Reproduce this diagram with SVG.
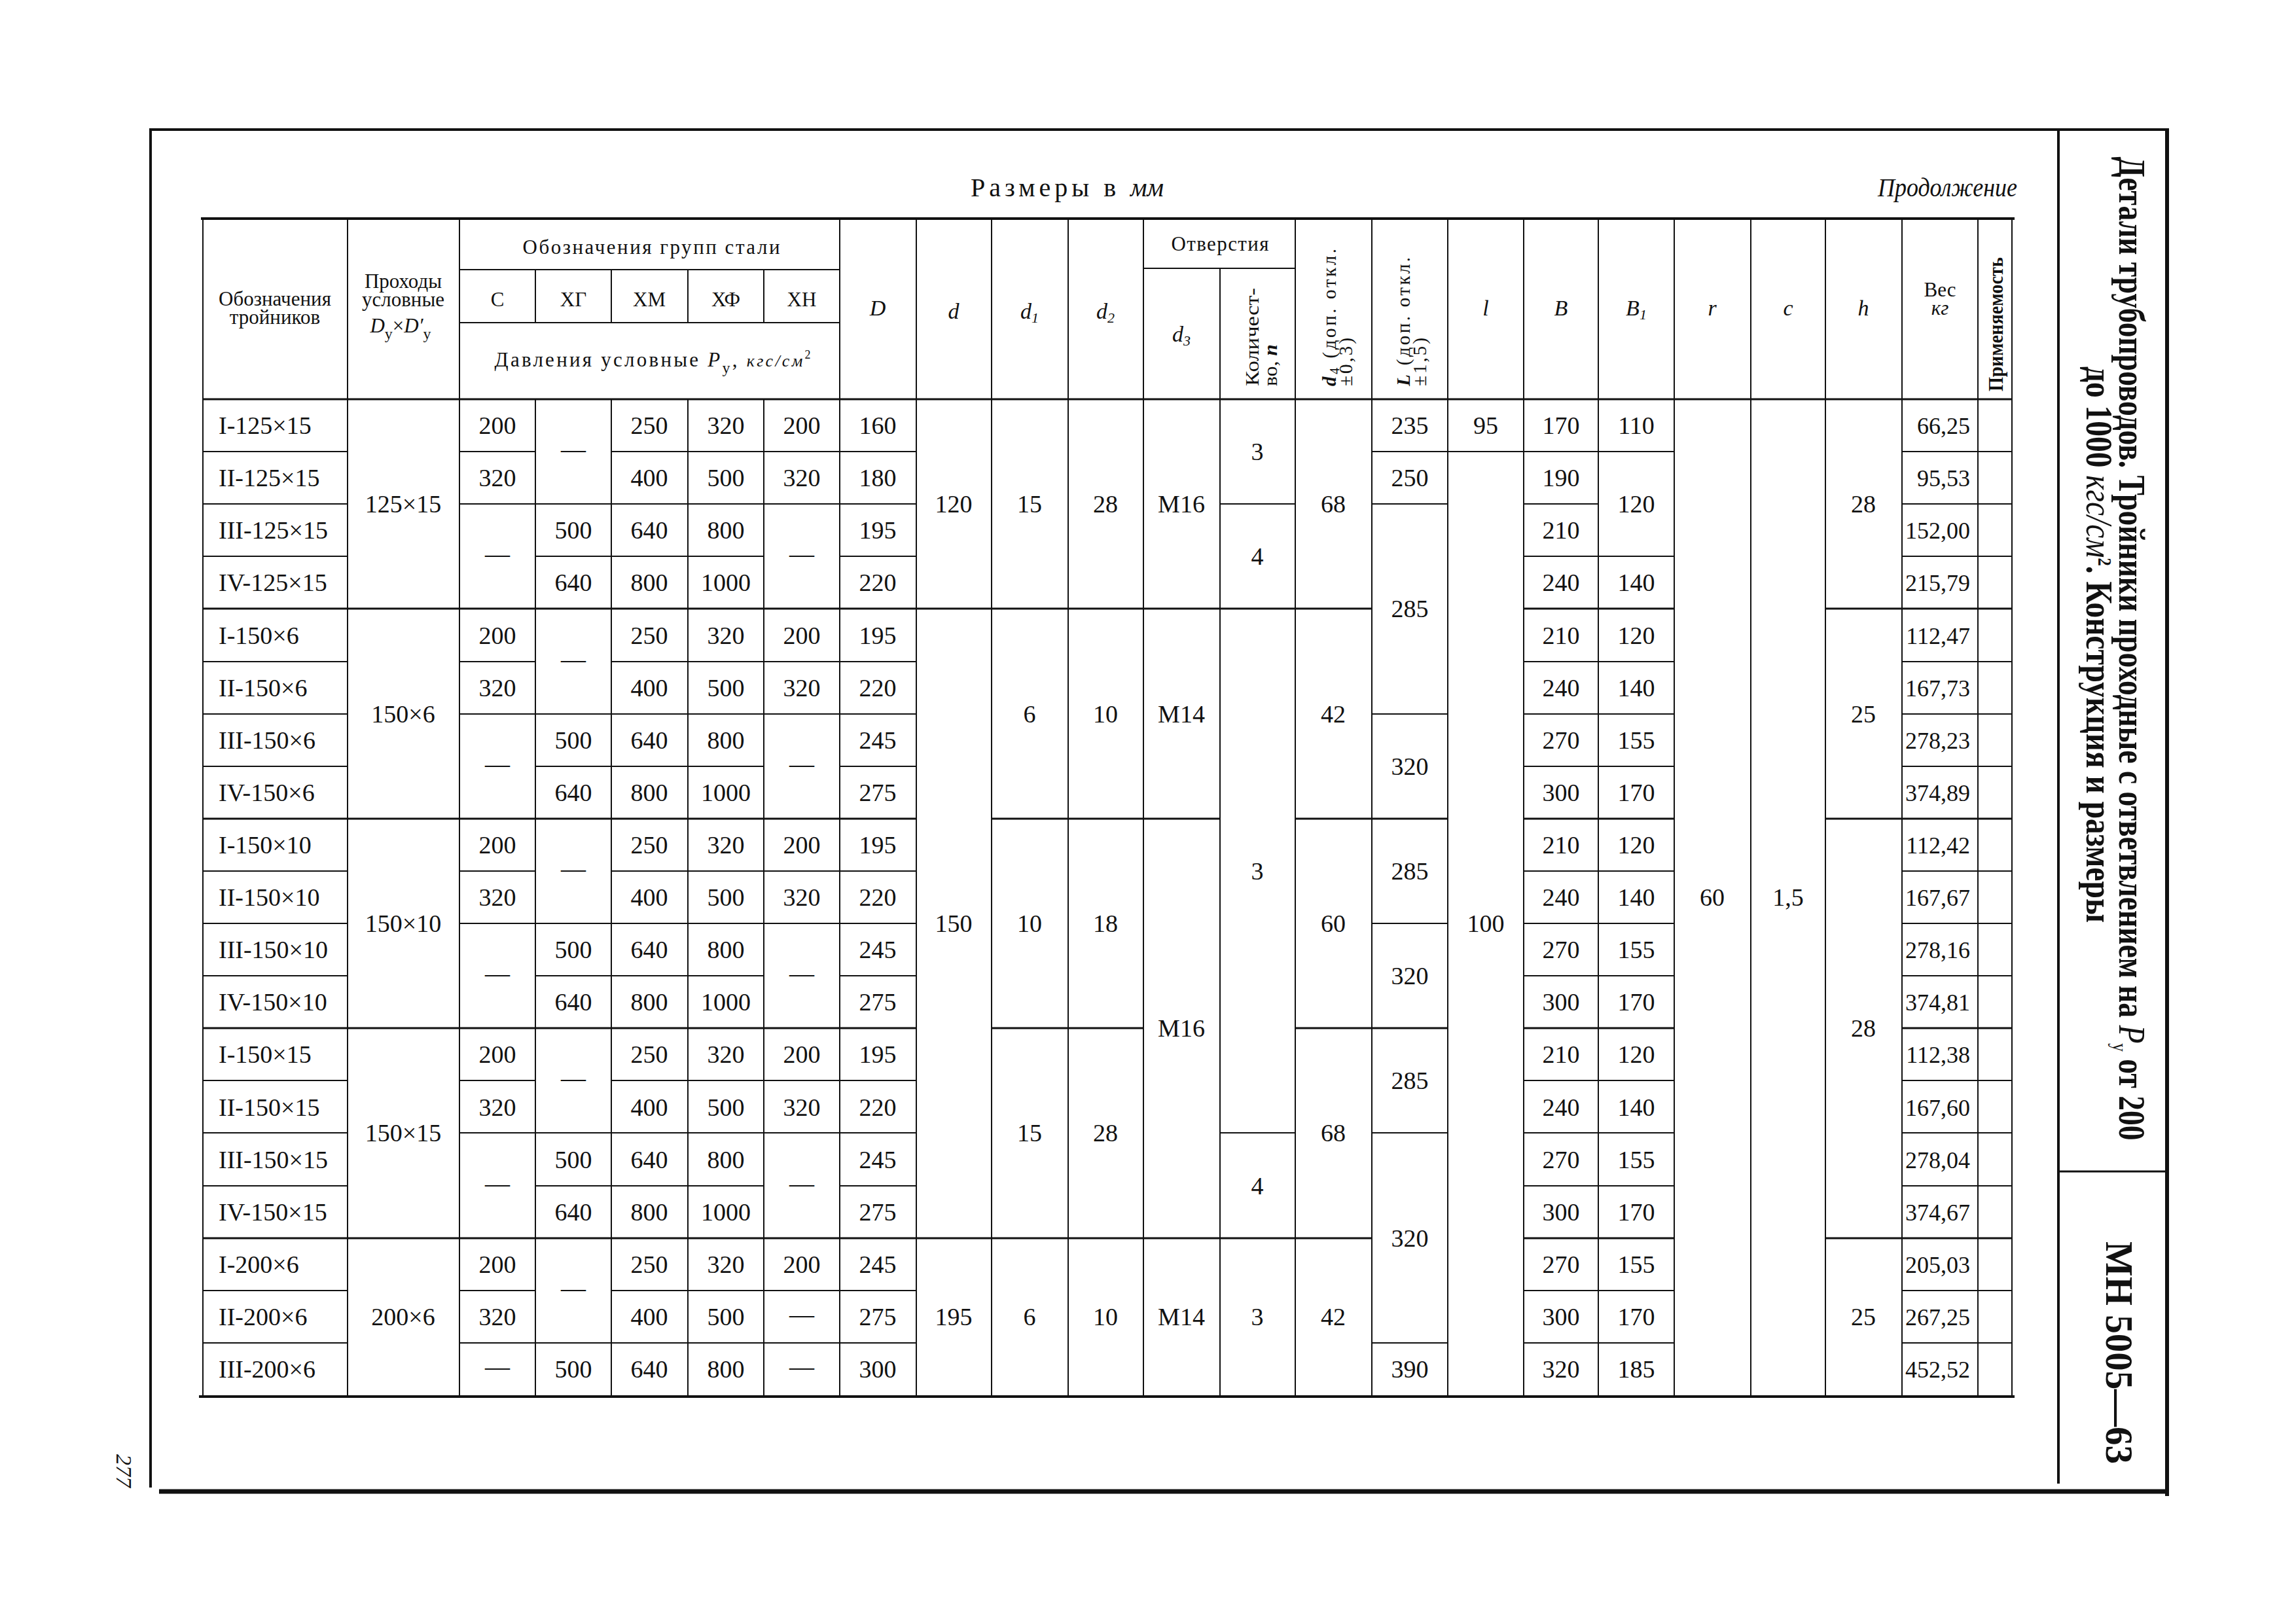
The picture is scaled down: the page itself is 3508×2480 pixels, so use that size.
<svg xmlns="http://www.w3.org/2000/svg" width="3508" height="2480" viewBox="0 0 3508 2480">
<style>
text{font-family:"Liberation Serif","Times New Roman",serif;fill:#111}
.t{font-size:38px;text-anchor:middle}
.l{font-size:38px;text-anchor:start}
.w{font-size:36px;text-anchor:end}
.h{font-size:31px;text-anchor:middle}
.s{font-size:34px;font-style:italic;text-anchor:middle}
.r{font-size:29px;text-anchor:start}
.g{stroke:#111;stroke-width:2;fill:none}
.gb{stroke:#111;stroke-width:3;fill:none}
.f{stroke:#111;fill:none}
</style>
<rect width="3508" height="2480" fill="#fff"/>

<g id="frame">
<path class="f" stroke-width="4" d="M230 198H3312 M230 196V2273 M3145 198V2267"/>
<path class="f" stroke-width="7" d="M243 2279H3312"/>
<path class="f" stroke-width="6" d="M3311 196V2286"/>
<path class="f" stroke-width="3" d="M3145 1790H3311"/>
<text transform="translate(178,2222) rotate(90)" font-size="34" font-style="italic">277</text>
</g>

<g id="title-block">
<text transform="translate(3238,991) rotate(90)" font-size="58" font-weight="bold" text-anchor="middle" textLength="1503" lengthAdjust="spacingAndGlyphs">Детали трубопроводов. Тройники проходные с ответвлением на <tspan font-style="italic" font-weight="normal">P</tspan><tspan font-size="32" dy="10" font-weight="normal">у</tspan><tspan dy="-10"> от 200</tspan></text>
<text transform="translate(3188,985) rotate(90)" font-size="58" font-weight="bold" text-anchor="middle" textLength="850" lengthAdjust="spacingAndGlyphs">до 1000 <tspan font-style="italic" font-weight="normal">кгс/см</tspan><tspan font-size="30" dy="-18">2</tspan><tspan dy="18">. Конструкция и размеры</tspan></text>
<text transform="translate(3218,2067) rotate(90)" font-size="60" font-weight="bold" text-anchor="middle" textLength="340" lengthAdjust="spacingAndGlyphs">МН 5005—63</text>
</g>

<g id="captions">
<text x="1483" y="300" font-size="40" letter-spacing="6">Размеры в <tspan font-style="italic" letter-spacing="0">мм</tspan></text>
<text x="3082" y="300" font-size="40" font-style="italic" text-anchor="end" textLength="213" lengthAdjust="spacingAndGlyphs">Продолжение</text>
</g>

<g id="table-grid">
<path class="f" stroke-width="4" d="M307 334H3078 M304 2134H3078"/>
<path class="gb" d="M310 610H3074"/>
<path class="g" d="M310 334V2134 M531 334V2134 M702 334V2134 M818 412V493 M818 610V2134 M934 412V493 M934 610V2134 M1051 412V493 M1051 610V2134 M1167 412V493 M1167 610V2134 M1283 334V2134 M1400 334V2134 M1515 334V2134 M1632 334V2134 M1747 334V2134 M1864 410V2134 M1979 334V2134 M2096 334V2134 M2212 334V2134 M2328 334V2134 M2442 334V2134 M2558 334V2134 M2675 334V2134 M2789 334V2134 M2906 334V2134 M3022 334V2134 M3074 334V2134"/>
<path class="g" d="M702 412H1283 M702 493H1283 M1747 410H1979"/>
<path class="g" d="M310 690H531 M702 690H818 M934 690H1400 M310 770H531 M702 770H1400 M310 850H531 M818 850H1167 M1283 850H1400
M310 1011H531 M702 1011H818 M934 1011H1400 M310 1091H531 M702 1091H1400 M310 1171H531 M818 1171H1167 M1283 1171H1400
M310 1331H531 M702 1331H818 M934 1331H1400 M310 1411H531 M702 1411H1400 M310 1491H531 M818 1491H1167 M1283 1491H1400
M310 1651H531 M702 1651H818 M934 1651H1400 M310 1731H531 M702 1731H1400 M310 1812H531 M818 1812H1167 M1283 1812H1400
M310 1972H531 M702 1972H818 M934 1972H1400 M310 2052H531 M702 2052H1400"/>
<path class="gb" d="M310 930H2096 M2328 930H2558 M2789 930H3074
M310 1251H1400 M1515 1251H1864 M1979 1251H2212 M2328 1251H2558 M2789 1251H3074
M310 1571H1400 M1515 1571H1747 M1979 1571H2212 M2328 1571H2558 M2906 1571H3074
M310 1892H2096 M2328 1892H2558 M2789 1892H3074"/>
<path class="g" d="M2096 690H2558 M2906 690H3074
M1864 770H1979 M2096 770H2212 M2328 770H2442 M2906 770H3074
M2328 850H2558 M2906 850H3074
M2328 1011H2558 M2906 1011H3074
M2096 1091H2212 M2328 1091H2558 M2906 1091H3074
M2328 1171H2558 M2906 1171H3074
M2328 1331H2558 M2906 1331H3074
M2096 1411H2212 M2328 1411H2558 M2906 1411H3074
M2328 1491H2558 M2906 1491H3074
M2328 1651H2558 M2906 1651H3074
M1864 1731H1979 M2096 1731H2212 M2328 1731H2558 M2906 1731H3074
M2328 1812H2558 M2906 1812H3074
M2328 1972H2558 M2906 1972H3074
M2096 2052H2212 M2328 2052H2558 M2906 2052H3074"/>
</g>

<g id="table-header">
<text class="h" x="420" y="467">Обозначения</text>
<text class="h" x="420" y="495">тройников</text>
<text class="h" x="616" y="440">Проходы</text>
<text class="h" x="616" y="468">условные</text>
<text class="h" x="612" y="508"><tspan font-style="italic">D</tspan><tspan font-size="24" dy="10">у</tspan><tspan dy="-10">×</tspan><tspan font-style="italic">D′</tspan><tspan font-size="24" dy="10">у</tspan></text>
<text class="h" x="995" y="388" textLength="393">Обозначения групп стали</text>
<text class="h" x="760" y="468">С</text>
<text class="h" x="876" y="468">ХГ</text>
<text class="h" x="992" y="468">ХМ</text>
<text class="h" x="1109" y="468">ХФ</text>
<text class="h" x="1225" y="468">ХН</text>
<text class="h" x="997" y="560" textLength="483">Давления условные <tspan font-style="italic">P</tspan><tspan font-size="24" dy="10">у</tspan><tspan dy="-10">, </tspan><tspan font-style="italic" font-size="26">кгс/см</tspan><tspan font-size="18" dy="-12">2</tspan></text>
<text class="s" x="1341" y="482">D</text>
<text class="s" x="1457" y="487">d</text>
<text class="s" x="1573" y="487">d<tspan font-size="22" dy="6">1</tspan></text>
<text class="s" x="1689" y="487">d<tspan font-size="22" dy="6">2</tspan></text>
<text class="h" x="1864" y="383" textLength="149">Отверстия</text>
<text class="s" x="1805" y="522">d<tspan font-size="22" dy="6">3</tspan></text>
<text class="r" transform="translate(1923,590) rotate(-90)" textLength="150" lengthAdjust="spacingAndGlyphs">Количест-</text>
<text class="r" transform="translate(1951,590) rotate(-90)" textLength="64" lengthAdjust="spacingAndGlyphs">во, <tspan font-style="italic" font-weight="bold">n</tspan></text>
<text class="r" transform="translate(2041,590) rotate(-90)" textLength="210"><tspan font-style="italic" font-weight="bold">d</tspan><tspan font-size="20" dy="5">4</tspan><tspan dy="-5"> (доп. откл.</tspan></text>
<text class="r" transform="translate(2066,590) rotate(-90)" textLength="74">±0,3)</text>
<text class="r" transform="translate(2154,590) rotate(-90)" textLength="197"><tspan font-style="italic" font-weight="bold">L</tspan> (доп. откл.</text>
<text class="r" transform="translate(2179,590) rotate(-90)" textLength="74">±1,5)</text>
<text class="s" x="2270" y="482">l</text>
<text class="s" x="2385" y="482">B</text>
<text class="s" x="2500" y="482">B<tspan font-size="22" dy="6">1</tspan></text>
<text class="s" x="2616" y="482">r</text>
<text class="s" x="2732" y="482">c</text>
<text class="s" x="2847" y="482">h</text>
<text class="h" x="2964" y="453">Вес</text>
<text class="h" x="2964" y="481" font-style="italic">кг</text>
<text transform="translate(3060,598) rotate(-90)" font-size="32" font-weight="bold" textLength="205" lengthAdjust="spacingAndGlyphs">Применяемость</text>
</g>

<g id="col-designation">
<text class="l" x="334" y="663">I-125×15</text>
<text class="l" x="334" y="743">II-125×15</text>
<text class="l" x="334" y="823">III-125×15</text>
<text class="l" x="334" y="903">IV-125×15</text>
<text class="l" x="334" y="984">I-150×6</text>
<text class="l" x="334" y="1064">II-150×6</text>
<text class="l" x="334" y="1144">III-150×6</text>
<text class="l" x="334" y="1224">IV-150×6</text>
<text class="l" x="334" y="1304">I-150×10</text>
<text class="l" x="334" y="1384">II-150×10</text>
<text class="l" x="334" y="1464">III-150×10</text>
<text class="l" x="334" y="1544">IV-150×10</text>
<text class="l" x="334" y="1624">I-150×15</text>
<text class="l" x="334" y="1705">II-150×15</text>
<text class="l" x="334" y="1785">III-150×15</text>
<text class="l" x="334" y="1865">IV-150×15</text>
<text class="l" x="334" y="1945">I-200×6</text>
<text class="l" x="334" y="2025">II-200×6</text>
<text class="l" x="334" y="2105">III-200×6</text>
</g>

<g id="col-passage">
<text class="t" x="616" y="783">125×15</text>
<text class="t" x="616" y="1104">150×6</text>
<text class="t" x="616" y="1424">150×10</text>
<text class="t" x="616" y="1744">150×15</text>
<text class="t" x="616" y="2025">200×6</text>
</g>

<g id="col-steel">
<text class="t" x="760" y="663">200</text><text class="t" x="992" y="663">250</text><text class="t" x="1109" y="663">320</text><text class="t" x="1225" y="663">200</text>
<text class="t" x="876" y="699">—</text>
<text class="t" x="760" y="743">320</text><text class="t" x="992" y="743">400</text><text class="t" x="1109" y="743">500</text><text class="t" x="1225" y="743">320</text>
<text class="t" x="876" y="823">500</text><text class="t" x="992" y="823">640</text><text class="t" x="1109" y="823">800</text>
<text class="t" x="760" y="859">—</text><text class="t" x="1225" y="859">—</text>
<text class="t" x="876" y="903">640</text><text class="t" x="992" y="903">800</text><text class="t" x="1109" y="903">1000</text>
<text class="t" x="760" y="984">200</text><text class="t" x="992" y="984">250</text><text class="t" x="1109" y="984">320</text><text class="t" x="1225" y="984">200</text>
<text class="t" x="876" y="1020">—</text>
<text class="t" x="760" y="1064">320</text><text class="t" x="992" y="1064">400</text><text class="t" x="1109" y="1064">500</text><text class="t" x="1225" y="1064">320</text>
<text class="t" x="876" y="1144">500</text><text class="t" x="992" y="1144">640</text><text class="t" x="1109" y="1144">800</text>
<text class="t" x="760" y="1180">—</text><text class="t" x="1225" y="1180">—</text>
<text class="t" x="876" y="1224">640</text><text class="t" x="992" y="1224">800</text><text class="t" x="1109" y="1224">1000</text>
<text class="t" x="760" y="1304">200</text><text class="t" x="992" y="1304">250</text><text class="t" x="1109" y="1304">320</text><text class="t" x="1225" y="1304">200</text>
<text class="t" x="876" y="1340">—</text>
<text class="t" x="760" y="1384">320</text><text class="t" x="992" y="1384">400</text><text class="t" x="1109" y="1384">500</text><text class="t" x="1225" y="1384">320</text>
<text class="t" x="876" y="1464">500</text><text class="t" x="992" y="1464">640</text><text class="t" x="1109" y="1464">800</text>
<text class="t" x="760" y="1500">—</text><text class="t" x="1225" y="1500">—</text>
<text class="t" x="876" y="1544">640</text><text class="t" x="992" y="1544">800</text><text class="t" x="1109" y="1544">1000</text>
<text class="t" x="760" y="1624">200</text><text class="t" x="992" y="1624">250</text><text class="t" x="1109" y="1624">320</text><text class="t" x="1225" y="1624">200</text>
<text class="t" x="876" y="1660">—</text>
<text class="t" x="760" y="1705">320</text><text class="t" x="992" y="1705">400</text><text class="t" x="1109" y="1705">500</text><text class="t" x="1225" y="1705">320</text>
<text class="t" x="876" y="1785">500</text><text class="t" x="992" y="1785">640</text><text class="t" x="1109" y="1785">800</text>
<text class="t" x="760" y="1821">—</text><text class="t" x="1225" y="1821">—</text>
<text class="t" x="876" y="1865">640</text><text class="t" x="992" y="1865">800</text><text class="t" x="1109" y="1865">1000</text>
<text class="t" x="760" y="1945">200</text><text class="t" x="992" y="1945">250</text><text class="t" x="1109" y="1945">320</text><text class="t" x="1225" y="1945">200</text>
<text class="t" x="876" y="1981">—</text>
<text class="t" x="760" y="2025">320</text><text class="t" x="992" y="2025">400</text><text class="t" x="1109" y="2025">500</text><text class="t" x="1225" y="2021">—</text>
<text class="t" x="760" y="2101">—</text><text class="t" x="876" y="2105">500</text><text class="t" x="992" y="2105">640</text><text class="t" x="1109" y="2105">800</text><text class="t" x="1225" y="2101">—</text>
</g>

<g id="col-D">
<text class="t" x="1341" y="663">160</text><text class="t" x="1341" y="743">180</text><text class="t" x="1341" y="823">195</text><text class="t" x="1341" y="903">220</text>
<text class="t" x="1341" y="984">195</text><text class="t" x="1341" y="1064">220</text><text class="t" x="1341" y="1144">245</text><text class="t" x="1341" y="1224">275</text>
<text class="t" x="1341" y="1304">195</text><text class="t" x="1341" y="1384">220</text><text class="t" x="1341" y="1464">245</text><text class="t" x="1341" y="1544">275</text>
<text class="t" x="1341" y="1624">195</text><text class="t" x="1341" y="1705">220</text><text class="t" x="1341" y="1785">245</text><text class="t" x="1341" y="1865">275</text>
<text class="t" x="1341" y="1945">245</text><text class="t" x="1341" y="2025">275</text><text class="t" x="1341" y="2105">300</text>
</g>

<g id="col-d-d4">
<text class="t" x="1457" y="783">120</text><text class="t" x="1457" y="1424">150</text><text class="t" x="1457" y="2025">195</text>
<text class="t" x="1573" y="783">15</text><text class="t" x="1573" y="1104">6</text><text class="t" x="1573" y="1424">10</text><text class="t" x="1573" y="1744">15</text><text class="t" x="1573" y="2025">6</text>
<text class="t" x="1689" y="783">28</text><text class="t" x="1689" y="1104">10</text><text class="t" x="1689" y="1424">18</text><text class="t" x="1689" y="1744">28</text><text class="t" x="1689" y="2025">10</text>
<text class="t" x="1805" y="783">M16</text><text class="t" x="1805" y="1104">M14</text><text class="t" x="1805" y="1584">M16</text><text class="t" x="1805" y="2025">M14</text>
<text class="t" x="1921" y="703">3</text><text class="t" x="1921" y="863">4</text><text class="t" x="1921" y="1344">3</text><text class="t" x="1921" y="1825">4</text><text class="t" x="1921" y="2025">3</text>
<text class="t" x="2037" y="783">68</text><text class="t" x="2037" y="1104">42</text><text class="t" x="2037" y="1424">60</text><text class="t" x="2037" y="1744">68</text><text class="t" x="2037" y="2025">42</text>
</g>

<g id="col-L-l">
<text class="t" x="2154" y="663">235</text><text class="t" x="2154" y="743">250</text><text class="t" x="2154" y="943">285</text><text class="t" x="2154" y="1184">320</text>
<text class="t" x="2154" y="1344">285</text><text class="t" x="2154" y="1504">320</text><text class="t" x="2154" y="1664">285</text><text class="t" x="2154" y="1905">320</text><text class="t" x="2154" y="2105">390</text>
<text class="t" x="2270" y="663">95</text><text class="t" x="2270" y="1424">100</text>
</g>

<g id="col-B-B1">
<text class="t" x="2385" y="663">170</text><text class="t" x="2500" y="663">110</text>
<text class="t" x="2385" y="743">190</text><text class="t" x="2500" y="783">120</text>
<text class="t" x="2385" y="823">210</text>
<text class="t" x="2385" y="903">240</text><text class="t" x="2500" y="903">140</text>
<text class="t" x="2385" y="984">210</text><text class="t" x="2500" y="984">120</text>
<text class="t" x="2385" y="1064">240</text><text class="t" x="2500" y="1064">140</text>
<text class="t" x="2385" y="1144">270</text><text class="t" x="2500" y="1144">155</text>
<text class="t" x="2385" y="1224">300</text><text class="t" x="2500" y="1224">170</text>
<text class="t" x="2385" y="1304">210</text><text class="t" x="2500" y="1304">120</text>
<text class="t" x="2385" y="1384">240</text><text class="t" x="2500" y="1384">140</text>
<text class="t" x="2385" y="1464">270</text><text class="t" x="2500" y="1464">155</text>
<text class="t" x="2385" y="1544">300</text><text class="t" x="2500" y="1544">170</text>
<text class="t" x="2385" y="1624">210</text><text class="t" x="2500" y="1624">120</text>
<text class="t" x="2385" y="1705">240</text><text class="t" x="2500" y="1705">140</text>
<text class="t" x="2385" y="1785">270</text><text class="t" x="2500" y="1785">155</text>
<text class="t" x="2385" y="1865">300</text><text class="t" x="2500" y="1865">170</text>
<text class="t" x="2385" y="1945">270</text><text class="t" x="2500" y="1945">155</text>
<text class="t" x="2385" y="2025">300</text><text class="t" x="2500" y="2025">170</text>
<text class="t" x="2385" y="2105">320</text><text class="t" x="2500" y="2105">185</text>
</g>

<g id="col-r-c-h">
<text class="t" x="2616" y="1384">60</text>
<text class="t" x="2732" y="1384">1,5</text>
<text class="t" x="2847" y="783">28</text><text class="t" x="2847" y="1104">25</text><text class="t" x="2847" y="1584">28</text><text class="t" x="2847" y="2025">25</text>
</g>

<g id="col-weight">
<text class="w" x="3010" y="663">66,25</text>
<text class="w" x="3010" y="743">95,53</text>
<text class="w" x="3010" y="823">152,00</text>
<text class="w" x="3010" y="903">215,79</text>
<text class="w" x="3010" y="984">112,47</text>
<text class="w" x="3010" y="1064">167,73</text>
<text class="w" x="3010" y="1144">278,23</text>
<text class="w" x="3010" y="1224">374,89</text>
<text class="w" x="3010" y="1304">112,42</text>
<text class="w" x="3010" y="1384">167,67</text>
<text class="w" x="3010" y="1464">278,16</text>
<text class="w" x="3010" y="1544">374,81</text>
<text class="w" x="3010" y="1624">112,38</text>
<text class="w" x="3010" y="1705">167,60</text>
<text class="w" x="3010" y="1785">278,04</text>
<text class="w" x="3010" y="1865">374,67</text>
<text class="w" x="3010" y="1945">205,03</text>
<text class="w" x="3010" y="2025">267,25</text>
<text class="w" x="3010" y="2105">452,52</text>
</g>
</svg>
